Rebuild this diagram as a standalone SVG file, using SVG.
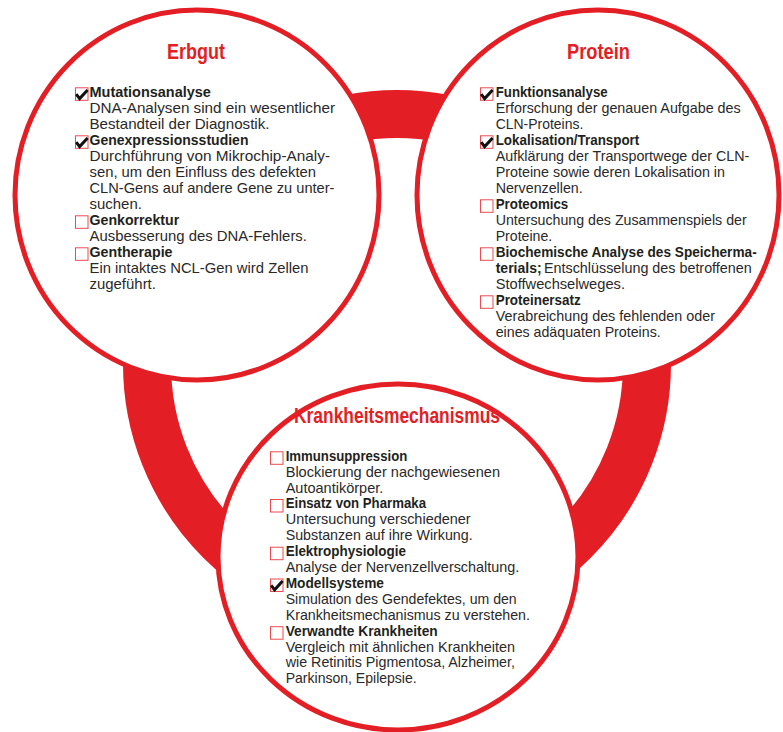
<svg xmlns="http://www.w3.org/2000/svg" width="783" height="732" viewBox="0 0 783 732">
<style>
.ring{fill:none;stroke:#e31e24;stroke-width:48}
.circ{fill:#fff;stroke:#e31e24;stroke-width:5}
.title{font-family:"Liberation Sans",Arial,sans-serif;font-weight:bold;fill:#e31e24;text-anchor:middle}
.h{font-family:"Liberation Sans",Arial,sans-serif;font-weight:bold;font-size:15.5px;fill:#231f20}
.b{font-family:"Liberation Sans",Arial,sans-serif;font-size:14.8px;fill:#2b2829}
</style>
<defs>
<g id="box"><rect x="0.5" y="0.5" width="12.5" height="12.5" fill="#fff" stroke="#ea4b50" stroke-width="1"/></g>
<g id="chk"><use href="#box"/><path d="M1.2,6.8 L4.6,11.3 L12.6,2.6" fill="none" stroke="#111" stroke-width="3" stroke-linejoin="miter"/></g>
</defs>
<g id="connectors">
<circle class="ring" cx="397" cy="364" r="250"/>
</g>
<g id="erbgut">
<ellipse class="circ" cx="197" cy="195" rx="182" ry="185"/>
<text class="title" x="196" y="59" font-size="22" textLength="58" lengthAdjust="spacingAndGlyphs">Erbgut</text>
<use href="#chk" x="75" y="87.3"/>
<use href="#chk" x="75" y="135.3"/>
<use href="#box" x="75" y="215.3"/>
<use href="#box" x="75" y="247.3"/>
<text class="h" x="89.5" y="96.7" textLength="121.4" lengthAdjust="spacingAndGlyphs">Mutationsanalyse</text>
<text class="b" x="89.5" y="112.7" textLength="245.5" lengthAdjust="spacingAndGlyphs">DNA-Analysen sind ein wesentlicher</text>
<text class="b" x="89.5" y="128.7" textLength="180" lengthAdjust="spacingAndGlyphs">Bestandteil der Diagnostik.</text>
<text class="h" x="89.5" y="144.7" textLength="159" lengthAdjust="spacingAndGlyphs">Genexpressionsstudien</text>
<text class="b" x="89.5" y="160.7" textLength="240.5" lengthAdjust="spacingAndGlyphs">Durchführung von Mikrochip-Analy-</text>
<text class="b" x="89.5" y="176.7" textLength="226.5" lengthAdjust="spacingAndGlyphs">sen, um den Einfluss des defekten</text>
<text class="b" x="89.5" y="192.7" textLength="245" lengthAdjust="spacingAndGlyphs">CLN-Gens auf andere Gene zu unter-</text>
<text class="b" x="89.5" y="208.7" textLength="52.4" lengthAdjust="spacingAndGlyphs">suchen.</text>
<text class="h" x="89.5" y="224.7" textLength="89.7" lengthAdjust="spacingAndGlyphs">Genkorrektur</text>
<text class="b" x="89.5" y="240.7" textLength="217.4" lengthAdjust="spacingAndGlyphs">Ausbesserung des DNA-Fehlers.</text>
<text class="h" x="89.5" y="256.7" textLength="83" lengthAdjust="spacingAndGlyphs">Gentherapie</text>
<text class="b" x="89.5" y="272.7" textLength="219" lengthAdjust="spacingAndGlyphs">Ein intaktes NCL-Gen wird Zellen</text>
<text class="b" x="89.5" y="288.7" textLength="66.4" lengthAdjust="spacingAndGlyphs">zugeführt.</text>
</g>
<g id="protein">
<ellipse class="circ" cx="598" cy="195" rx="181" ry="185"/>
<text class="title" x="598.5" y="59" font-size="22" textLength="63" lengthAdjust="spacingAndGlyphs">Protein</text>
<use href="#chk" x="480" y="87.3"/>
<use href="#chk" x="480" y="135.3"/>
<use href="#box" x="480" y="199.3"/>
<use href="#box" x="480" y="247.3"/>
<use href="#box" x="480" y="295.3"/>
<text class="h" x="495.7" y="96.7" textLength="112" lengthAdjust="spacingAndGlyphs">Funktionsanalyse</text>
<text class="b" x="495.7" y="112.7" textLength="245" lengthAdjust="spacingAndGlyphs">Erforschung der genauen Aufgabe des</text>
<text class="b" x="495.7" y="128.7" textLength="87.6" lengthAdjust="spacingAndGlyphs">CLN-Proteins.</text>
<text class="h" x="495.7" y="144.7" textLength="143.6" lengthAdjust="spacingAndGlyphs">Lokalisation/Transport</text>
<text class="b" x="495.7" y="160.7" textLength="253.6" lengthAdjust="spacingAndGlyphs">Aufklärung der Transportwege der CLN-</text>
<text class="b" x="495.7" y="176.7" textLength="229.3" lengthAdjust="spacingAndGlyphs">Proteine sowie deren Lokalisation in</text>
<text class="b" x="495.7" y="192.7" textLength="87" lengthAdjust="spacingAndGlyphs">Nervenzellen.</text>
<text class="h" x="495.7" y="208.7" textLength="72.6" lengthAdjust="spacingAndGlyphs">Proteomics</text>
<text class="b" x="495.7" y="224.7" textLength="251" lengthAdjust="spacingAndGlyphs">Untersuchung des Zusammenspiels der</text>
<text class="b" x="495.7" y="240.7" textLength="56.6" lengthAdjust="spacingAndGlyphs">Proteine.</text>
<text class="h" x="495.7" y="256.7" textLength="261" lengthAdjust="spacingAndGlyphs">Biochemische Analyse des Speicherma-</text>
<text class="h" x="495.7" y="272.7" textLength="46" lengthAdjust="spacingAndGlyphs">terials;</text>
<text class="b" x="544" y="272.7" textLength="207.7" lengthAdjust="spacingAndGlyphs">Entschlüsselung des betroffenen</text>
<text class="b" x="495.7" y="288.7" textLength="129.3" lengthAdjust="spacingAndGlyphs">Stoffwechselweges.</text>
<text class="h" x="495.7" y="304.7" textLength="85" lengthAdjust="spacingAndGlyphs">Proteinersatz</text>
<text class="b" x="495.7" y="320.7" textLength="219.3" lengthAdjust="spacingAndGlyphs">Verabreichung des fehlenden oder</text>
<text class="b" x="495.7" y="336.7" textLength="165" lengthAdjust="spacingAndGlyphs">eines adäquaten Proteins.</text>
</g>
<g id="krankheitsmechanismus">
<ellipse class="circ" cx="398" cy="557" rx="180" ry="173"/>
<text class="title" x="397" y="423" font-size="21.5" textLength="206" lengthAdjust="spacingAndGlyphs">Krankheitsmechanismus</text>
<use href="#box" x="270" y="451.3"/>
<use href="#box" x="270" y="499"/>
<use href="#box" x="270" y="546.7"/>
<use href="#chk" x="270" y="578.5"/>
<use href="#box" x="270" y="626.2"/>
<text class="h" x="285.7" y="460.7" textLength="121.6" lengthAdjust="spacingAndGlyphs">Immunsuppression</text>
<text class="b" x="285.7" y="476.6" textLength="214.3" lengthAdjust="spacingAndGlyphs">Blockierung der nachgewiesenen</text>
<text class="b" x="285.7" y="492.5" textLength="97.6" lengthAdjust="spacingAndGlyphs">Autoantikörper.</text>
<text class="h" x="285.7" y="508.4" textLength="140.3" lengthAdjust="spacingAndGlyphs">Einsatz von Pharmaka</text>
<text class="b" x="285.7" y="524.3" textLength="185" lengthAdjust="spacingAndGlyphs">Untersuchung verschiedener</text>
<text class="b" x="285.7" y="540.2" textLength="187" lengthAdjust="spacingAndGlyphs">Substanzen auf ihre Wirkung.</text>
<text class="h" x="285.7" y="556.1" textLength="120.3" lengthAdjust="spacingAndGlyphs">Elektrophysiologie</text>
<text class="b" x="285.7" y="572" textLength="233.6" lengthAdjust="spacingAndGlyphs">Analyse der Nervenzellverschaltung.</text>
<text class="h" x="285.7" y="587.9" textLength="98.3" lengthAdjust="spacingAndGlyphs">Modellsysteme</text>
<text class="b" x="285.7" y="603.8" textLength="231" lengthAdjust="spacingAndGlyphs">Simulation des Gendefektes, um den</text>
<text class="b" x="285.7" y="619.7" textLength="244.3" lengthAdjust="spacingAndGlyphs">Krankheitsmechanismus zu verstehen.</text>
<text class="h" x="285.7" y="635.6" textLength="152" lengthAdjust="spacingAndGlyphs">Verwandte Krankheiten</text>
<text class="b" x="285.7" y="651.5" textLength="229.3" lengthAdjust="spacingAndGlyphs">Vergleich mit ähnlichen Krankheiten</text>
<text class="b" x="285.7" y="667.4" textLength="229.3" lengthAdjust="spacingAndGlyphs">wie Retinitis Pigmentosa, Alzheimer,</text>
<text class="b" x="285.7" y="683.3" textLength="131" lengthAdjust="spacingAndGlyphs">Parkinson, Epilepsie.</text>
</g>
</svg>
